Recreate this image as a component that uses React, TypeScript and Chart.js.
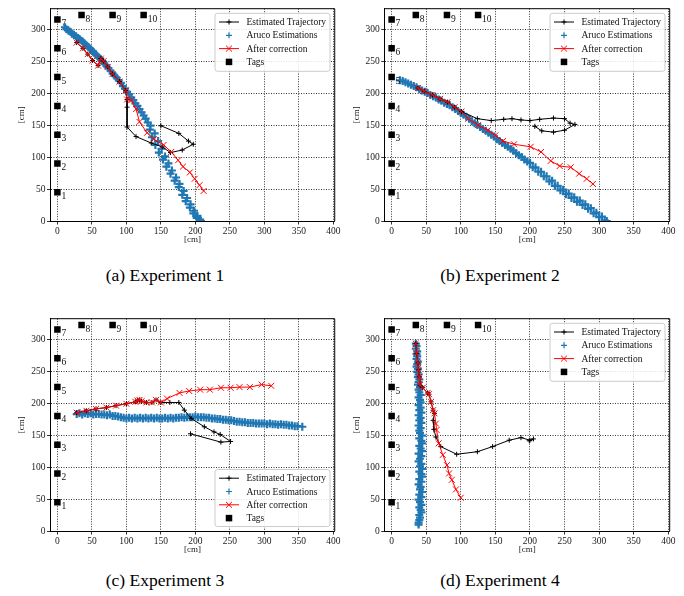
import React, { useEffect, useRef } from 'react';
import { Chart, registerables } from 'chart.js';
Chart.register(...registerables);

const SERIF = '"Times New Roman", "Liberation Serif", Tinos, "DejaVu Serif", serif';

const X_TICKS = [0, 50, 100, 150, 200, 250, 300, 350, 400];
const Y_TICKS = [0, 50, 100, 150, 200, 250, 300];
const TAG_X = [0, 0, 0, 0, 0, 0, 0, 35, 80, 125];
const TAG_Y = [45, 90, 135, 180, 225, 270, 315, 322, 322, 322];
const TAG_LABELS = ['1', '2', '3', '4', '5', '6', '7', '8', '9', '10'];
const SERIES_LABELS = ['Estimated Trajectory', 'Aruco Estimations', 'After correction', 'Tags'];
const CAPTIONS = ['(a) Experiment 1', '(b) Experiment 2', '(c) Experiment 3', '(d) Experiment 4'];

// ---------- Experiment 1 ----------
const EXP1_EST_X = [28, 37, 44, 51, 59, 63, 67, 73, 80, 90, 99, 101, 101, 101, 114, 136, 152, 164, 181, 197, 190, 176, 150];
const EXP1_EST_Y = [279, 270, 261, 251, 243, 254, 250, 241, 230, 218, 204, 190, 178, 147, 132, 122, 116, 107, 111, 120, 125, 137, 149];
const EXP1_ARUCO_X = [11, 13, 16, 19, 21, 24, 27, 30, 33, 36, 39, 42, 45, 48, 51, 53, 56, 59, 62, 65, 68, 71, 74, 77, 80, 83, 86, 89, 92, 95, 98, 101, 104, 107, 110, 113, 116, 119, 122, 125, 128, 131, 135, 134, 141, 137, 146, 142, 151, 147, 156, 153, 161, 158, 166, 164, 172, 170, 177, 176, 183, 181, 188, 186, 193, 192, 198, 197, 203, 202, 207, 208];
const EXP1_ARUCO_Y = [303, 300, 298, 296, 293, 291, 289, 286, 284, 281, 278, 275, 272, 269, 266, 263, 260, 257, 254, 250, 246, 243, 239, 235, 231, 227, 224, 220, 216, 211, 207, 202, 198, 193, 189, 184, 180, 175, 170, 165, 160, 154, 149, 143, 137, 131, 125, 119, 113, 107, 101, 96, 90, 85, 79, 74, 68, 63, 58, 53, 47, 41, 36, 31, 26, 21, 16, 12, 8, 5, 2, 0];
const EXP1_COR_X = [28, 37, 44, 51, 59, 63, 67, 73, 80, 90, 99, 101, 107, 114, 119, 130, 140, 154, 165, 175, 182, 192, 199, 206, 212];
const EXP1_COR_Y = [279, 270, 261, 251, 243, 254, 250, 241, 230, 218, 204, 190, 189, 175, 155, 138, 128, 119, 108, 95, 85, 76, 66, 56, 47];

// ---------- Experiment 2 ----------
const EXP2_EST_X = [38, 47, 59, 70, 81, 91, 101, 124, 144, 162, 174, 187, 200, 214, 234, 250, 258, 265, 250, 234, 217, 207];
const EXP2_EST_Y = [208, 203, 197, 191, 186, 178, 171, 160, 157, 159, 160, 158, 157, 159, 161, 160, 153, 151, 142, 139, 141, 148];
const EXP2_ARUCO_X = [12, 16, 20, 24, 28, 32, 36, 40, 44, 48, 52, 56, 60, 64, 68, 72, 76, 80, 84, 88, 92, 96, 100, 104, 108, 112, 116, 120, 124, 128, 132, 136, 140, 144, 148, 152, 156, 160, 164, 168, 172, 176, 180, 184, 188, 192, 196, 200, 204, 208, 212, 216, 220, 224, 228, 232, 236, 240, 244, 248, 252, 256, 260, 264, 268, 272, 276, 280, 284, 288, 292, 296, 300, 304, 308, 311];
const EXP2_ARUCO_Y = [220, 219, 217, 215, 213, 211, 209, 206, 204, 202, 200, 197, 195, 193, 190, 188, 185, 183, 181, 178, 175, 172, 169, 166, 163, 160, 156, 153, 150, 147, 144, 141, 138, 135, 132, 128, 125, 122, 119, 116, 113, 110, 106, 103, 100, 96, 93, 91, 84, 84, 77, 77, 70, 70, 62, 63, 55, 55, 48, 49, 42, 43, 36, 37, 30, 32, 25, 26, 19, 20, 12, 13, 6, 7, 1, 0];
const EXP2_COR_X = [38, 47, 59, 70, 81, 91, 101, 111, 125, 139, 150, 161, 177, 201, 216, 230, 243, 259, 271, 282, 291];
const EXP2_COR_Y = [208, 203, 197, 191, 186, 178, 171, 160, 150, 142, 134, 125, 120, 116, 108, 94, 86, 84, 74, 66, 58];

// ---------- Experiment 3 ----------
const EXP3_EST_X = [28, 42, 56, 71, 85, 100, 113, 116, 119, 122, 129, 137, 143, 150, 163, 176, 184, 194, 213, 227, 236, 251, 237, 193];
const EXP3_EST_Y = [185, 188, 191, 193, 196, 199, 202, 204, 205, 203, 201, 201, 205, 201, 201, 201, 189, 176, 163, 155, 151, 140, 139, 152];
const EXP3_ARUCO_X = [28, 32, 36, 40, 44, 48, 52, 56, 60, 64, 68, 72, 76, 80, 84, 88, 92, 96, 100, 104, 108, 112, 116, 120, 124, 128, 132, 136, 140, 144, 148, 152, 156, 160, 164, 168, 172, 176, 180, 184, 188, 192, 196, 200, 204, 208, 212, 216, 220, 224, 228, 232, 236, 240, 244, 248, 252, 256, 260, 264, 268, 272, 276, 280, 284, 288, 292, 296, 300, 304, 308, 312, 316, 320, 324, 328, 332, 336, 340, 344, 348, 355];
const EXP3_ARUCO_Y = [183, 184, 182, 184, 183, 184, 182, 183, 183, 182, 182, 181, 182, 180, 180, 179, 178, 177, 176, 177, 176, 177, 176, 177, 176, 177, 176, 177, 176, 177, 176, 176, 177, 176, 177, 176, 177, 177, 178, 177, 178, 178, 178, 179, 178, 178, 178, 177, 177, 176, 176, 175, 175, 174, 174, 173, 173, 172, 171, 171, 170, 170, 169, 169, 169, 168, 168, 168, 168, 167, 168, 167, 167, 166, 167, 166, 166, 165, 165, 164, 164, 163];
const EXP3_COR_X = [28, 42, 56, 71, 85, 100, 113, 116, 119, 122, 129, 137, 143, 150, 159, 177, 191, 207, 221, 237, 251, 264, 279, 296, 310];
const EXP3_COR_Y = [185, 188, 191, 193, 196, 199, 202, 204, 205, 203, 201, 201, 205, 201, 207, 216, 219, 221, 221, 224, 224, 225, 225, 229, 227];

// ---------- Experiment 4 ----------
const EXP4_EST_X = [35, 36, 38, 39, 40, 41, 45, 52, 54, 57, 60, 62, 60, 61, 64, 71, 94, 124, 146, 170, 187, 200, 205, 199];
const EXP4_EST_Y = [293, 278, 263, 252, 241, 228, 224, 216, 214, 202, 189, 184, 173, 159, 147, 132, 120, 124, 132, 142, 146, 142, 144, 141];
const EXP4_ARUCO_X = [35, 36, 35, 37, 36, 37, 36, 38, 37, 36, 38, 37, 39, 38, 40, 39, 38, 41, 39, 40, 42, 39, 41, 42, 39, 42, 40, 43, 39, 42, 40, 43, 39, 42, 40, 41, 44, 40, 43, 44, 40, 42, 44, 39, 43, 41, 39, 43, 41, 44, 40, 43, 44, 40, 43, 39, 42, 41, 44, 40, 43, 39, 41, 43, 40, 42, 43, 40, 41, 40, 39, 39];
const EXP4_ARUCO_Y = [293, 289, 285, 281, 277, 273, 269, 265, 261, 257, 253, 249, 245, 241, 237, 233, 229, 225, 221, 217, 213, 209, 205, 201, 197, 193, 189, 185, 181, 177, 173, 169, 165, 161, 157, 153, 149, 145, 141, 137, 133, 129, 125, 121, 117, 113, 109, 105, 101, 97, 93, 89, 85, 81, 77, 73, 69, 65, 61, 57, 53, 49, 45, 41, 37, 33, 29, 25, 21, 17, 13, 10];
const EXP4_COR_X = [35, 36, 38, 39, 40, 41, 45, 52, 54, 57, 60, 62, 64, 65, 68, 74, 80, 83, 87, 93, 100];
const EXP4_COR_Y = [293, 278, 263, 252, 241, 228, 224, 216, 214, 202, 189, 184, 168, 158, 137, 119, 103, 90, 80, 65, 52];

const pts = (xs: number[], ys: number[]) => xs.map((x, i) => ({ x, y: ys[i] }));

function drawMarker(ctx: CanvasRenderingContext2D, style: string, x: number, y: number, r: number, color: string, lw: number) {
  ctx.save();
  ctx.strokeStyle = color;
  ctx.fillStyle = color;
  ctx.lineWidth = lw;
  ctx.beginPath();
  if (style === 'cross') {
    ctx.moveTo(x - r, y); ctx.lineTo(x + r, y);
    ctx.moveTo(x, y - r); ctx.lineTo(x, y + r);
    ctx.stroke();
  } else if (style === 'crossRot') {
    const d = r * Math.SQRT1_2;
    ctx.moveTo(x - d, y - d); ctx.lineTo(x + d, y + d);
    ctx.moveTo(x - d, y + d); ctx.lineTo(x + d, y - d);
    ctx.stroke();
  } else if (style === 'rect') {
    const d = r * Math.SQRT1_2;
    ctx.fillRect(x - d, y - d, 2 * d, 2 * d);
  }
  ctx.restore();
}

const framePlugin = {
  id: 'frame',
  afterDatasetsDraw(chart: any) {
    const { ctx, chartArea: a } = chart;
    ctx.save();
    ctx.strokeStyle = '#000';
    ctx.lineWidth = 1;
    ctx.beginPath();
    ctx.moveTo(a.left, a.top);
    ctx.lineTo(a.right, a.top);
    ctx.lineTo(a.right, a.bottom);
    ctx.stroke();
    ctx.restore();
  },
};

const tagLabelPlugin = {
  id: 'tagLabels',
  afterDatasetsDraw(chart: any) {
    const { ctx } = chart;
    const idx = chart.data.datasets.findIndex((d: any) => d.label === 'Tags');
    if (idx < 0) return;
    const meta = chart.getDatasetMeta(idx);
    ctx.save();
    ctx.font = `9.5px ${SERIF}`;
    ctx.fillStyle = '#111';
    ctx.textAlign = 'left';
    ctx.textBaseline = 'middle';
    meta.data.forEach((el: any, i: number) => {
      ctx.fillText(TAG_LABELS[i], el.x + 4, el.y + 4);
    });
    ctx.restore();
  },
};

const legendPlugin = {
  id: 'mplLegend',
  afterDraw(chart: any, _args: any, opts: any) {
    const { ctx } = chart;
    const { x, y, w, h } = opts;
    ctx.save();
    ctx.beginPath();
    if ((ctx as any).roundRect) (ctx as any).roundRect(x, y, w, h, 2.5);
    else ctx.rect(x, y, w, h);
    ctx.fillStyle = 'rgba(255,255,255,0.85)';
    ctx.fill();
    ctx.strokeStyle = '#cccccc';
    ctx.lineWidth = 1;
    ctx.stroke();
    chart.data.datasets.forEach((ds: any, i: number) => {
      const cy = y + 8.7 + i * 13.3;
      const cx = x + 14;
      if (ds.showLine) {
        ctx.save();
        ctx.strokeStyle = ds.borderColor;
        ctx.lineWidth = ds.borderWidth;
        ctx.beginPath();
        ctx.moveTo(x + 4, cy);
        ctx.lineTo(x + 24, cy);
        ctx.stroke();
        ctx.restore();
      }
      const r = ds.legendRadius ?? ds.pointRadius;
      drawMarker(ctx, ds.pointStyle, cx, cy, r, ds.pointBorderColor, Math.min(ds.pointBorderWidth, 1.2));
      ctx.font = `9.5px ${SERIF}`;
      ctx.fillStyle = '#111';
      ctx.textAlign = 'left';
      ctx.textBaseline = 'middle';
      ctx.fillText(ds.label, x + 31.5, cy + 0.5);
    });
    ctx.restore();
  },
};

type Exp = {
  est: [number[], number[]];
  aruco: [number[], number[]];
  cor: [number[], number[]];
};

const EXPS: Exp[] = [
  { est: [EXP1_EST_X, EXP1_EST_Y], aruco: [EXP1_ARUCO_X, EXP1_ARUCO_Y], cor: [EXP1_COR_X, EXP1_COR_Y] },
  { est: [EXP2_EST_X, EXP2_EST_Y], aruco: [EXP2_ARUCO_X, EXP2_ARUCO_Y], cor: [EXP2_COR_X, EXP2_COR_Y] },
  { est: [EXP3_EST_X, EXP3_EST_Y], aruco: [EXP3_ARUCO_X, EXP3_ARUCO_Y], cor: [EXP3_COR_X, EXP3_COR_Y] },
  { est: [EXP4_EST_X, EXP4_EST_Y], aruco: [EXP4_ARUCO_X, EXP4_ARUCO_Y], cor: [EXP4_COR_X, EXP4_COR_Y] },
];

type Geo = { left: number; top: number; yAxisW: number; padRight: number; yTitlePad: number; legend: { x: number; y: number; w: number; h: number } };

const GEOS: Geo[] = [
  { left: 0, top: 0, yAxisW: 50.5, padRight: 7, yTitlePad: 16.3, legend: { x: 215, y: 13.3, w: 115, h: 58 } },
  { left: 342, top: 0, yAxisW: 42.7, padRight: 14.3, yTitlePad: 9.6, legend: { x: 208, y: 13.3, w: 115, h: 58 } },
  { left: 0, top: 310, yAxisW: 50.5, padRight: 7, yTitlePad: 16.3, legend: { x: 215, y: 159.5, w: 115, h: 57 } },
  { left: 342, top: 310, yAxisW: 42.7, padRight: 14.3, yTitlePad: 9.6, legend: { x: 208, y: 13.3, w: 115, h: 58 } },
];

const CW = 342;
const CH = 250;
const PAD_TOP = 8.7;
const X_AXIS_H = 29;

function buildConfig(exp: Exp, geo: Geo): any {
  const tickFont = { family: SERIF, size: 9.5 };
  const titleFont = { family: SERIF, size: 9 };
  return {
    type: 'scatter',
    data: {
      datasets: [
        {
          label: SERIES_LABELS[0],
          data: pts(exp.est[0], exp.est[1]),
          showLine: true,
          borderColor: '#000',
          borderWidth: 1,
          pointStyle: 'cross',
          pointRadius: 2.5,
          pointBorderWidth: 1,
          pointBorderColor: '#000',
          pointBackgroundColor: '#000',
          tension: 0,
          order: 2,
        },
        {
          label: SERIES_LABELS[1],
          data: pts(exp.aruco[0], exp.aruco[1]),
          showLine: false,
          borderColor: '#1f77b4',
          pointStyle: 'cross',
          pointRadius: 4,
          legendRadius: 3,
          pointBorderWidth: 2.2,
          pointBorderColor: '#1f77b4',
          pointBackgroundColor: '#1f77b4',
          order: 3,
        },
        {
          label: SERIES_LABELS[2],
          data: pts(exp.cor[0], exp.cor[1]),
          showLine: true,
          borderColor: '#ff0000',
          borderWidth: 1,
          pointStyle: 'crossRot',
          pointRadius: 4.2,
          pointBorderWidth: 1,
          pointBorderColor: '#ff0000',
          pointBackgroundColor: '#ff0000',
          tension: 0,
          order: 1,
        },
        {
          label: SERIES_LABELS[3],
          data: pts(TAG_X, TAG_Y),
          showLine: false,
          pointStyle: 'rect',
          pointRadius: 4.6,
          pointBorderWidth: 0,
          pointBorderColor: '#000',
          pointBackgroundColor: '#000',
          order: 0,
        },
      ],
    },
    options: {
      responsive: false,
      animation: false,
      events: [],
      layout: { padding: { top: PAD_TOP, right: geo.padRight, left: 0, bottom: 0 } },
      plugins: {
        legend: { display: false },
        tooltip: { enabled: false },
        mplLegend: geo.legend,
      },
      scales: {
        x: {
          type: 'linear',
          min: -10,
          max: 402,
          afterBuildTicks: (s: any) => { s.ticks = X_TICKS.map((v) => ({ value: v })); },
          afterFit: (s: any) => { s.height = X_AXIS_H; },
          grid: { color: '#000', lineWidth: 0.8, drawTicks: true, tickLength: 3.5, tickColor: '#000', tickWidth: 0.8, tickBorderDash: [] },
          border: { display: true, color: '#000', width: 1, dash: [1, 1.5] },
          ticks: { font: tickFont, color: '#1a1a1a', padding: 1.5, maxRotation: 0, autoSkip: false },
          title: { display: true, text: '[cm]', font: titleFont, color: '#1a1a1a', padding: { top: 0, bottom: 4.6 } },
        },
        y: {
          type: 'linear',
          min: 0,
          max: 332,
          afterBuildTicks: (s: any) => { s.ticks = Y_TICKS.map((v) => ({ value: v })); },
          afterFit: (s: any) => { s.width = geo.yAxisW; },
          grid: { color: '#000', lineWidth: 0.8, drawTicks: true, tickLength: 3.5, tickColor: '#000', tickWidth: 0.8, tickBorderDash: [] },
          border: { display: true, color: '#000', width: 1, dash: [1, 1.5] },
          ticks: { font: tickFont, color: '#1a1a1a', padding: 1.5, autoSkip: false },
          title: { display: true, text: '[cm]', font: titleFont, color: '#1a1a1a', padding: { top: geo.yTitlePad, bottom: 0 } },
        },
      },
    },
    plugins: [framePlugin, tagLabelPlugin, legendPlugin],
  };
}

function Plot({ exp, geo }: { exp: Exp; geo: Geo }) {
  const ref = useRef<HTMLCanvasElement>(null);
  useEffect(() => {
    if (!ref.current) return;
    const chart = new Chart(ref.current, buildConfig(exp, geo));
    return () => chart.destroy();
  }, []);
  return (
    <canvas
      ref={ref}
      width={CW}
      height={CH}
      style={{ position: 'absolute', left: geo.left, top: geo.top, width: CW, height: CH }}
    />
  );
}

const CAPTION_POS = [
  { cx: 165, cy: 275 },
  { cx: 500, cy: 275 },
  { cx: 165, cy: 580 },
  { cx: 500, cy: 580 },
];

export default function App() {
  return (
    <div style={{ position: 'absolute', left: 0, top: 0, width: 684, height: 596, background: '#fff', overflow: 'hidden' }}>
      {EXPS.map((exp, i) => (
        <Plot key={i} exp={exp} geo={GEOS[i]} />
      ))}
      {CAPTIONS.map((c, i) => (
        <div
          key={c}
          style={{
            position: 'absolute',
            left: CAPTION_POS[i].cx - 120,
            width: 240,
            top: CAPTION_POS[i].cy - 11,
            height: 22,
            lineHeight: '22px',
            textAlign: 'center',
            fontFamily: SERIF,
            fontSize: '17.5px',
            color: '#000',
            whiteSpace: 'nowrap',
          }}
        >
          {c}
        </div>
      ))}
    </div>
  );
}
